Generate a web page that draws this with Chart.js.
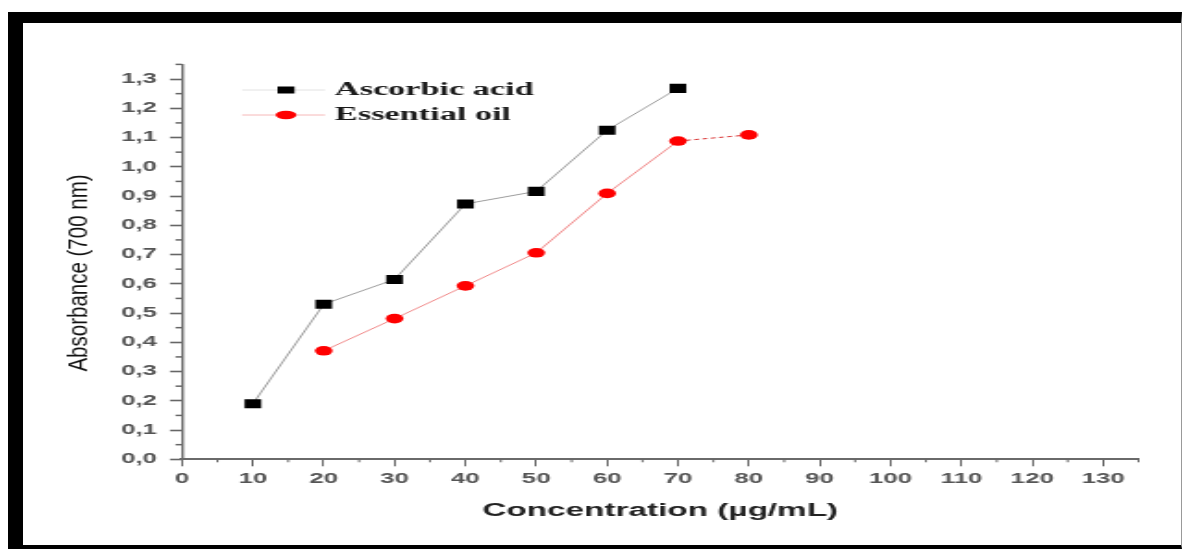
<!DOCTYPE html>
<html>
<head>
<meta charset="utf-8">
<script src="https://cdn.jsdelivr.net/npm/chart.js@4.4.1/dist/chart.umd.min.js"></script>
<style>
    html, body { margin: 0; padding: 0; background: #fff; }
    body { width: 1182px; height: 549px; position: relative; overflow: hidden; }
    /* the source picture is stretched sideways, so the whole canvas is too */
    #wrap { position: absolute; left: 0; top: 0; transform-origin: 0 0; }
    #frame {
        position: absolute; left: 8px; top: 12px; width: 1174px; height: 537px;
        box-sizing: border-box; pointer-events: none;
        border-top: 11px solid #000; border-left: 15px solid #000;
        border-bottom: 4px solid #000; border-right: 1px solid #999;
    }
</style>
</head>
<body>
<div id="wrap"><canvas id="chart" width="639" height="549"></canvas></div>
<div id="frame"></div>
<script>
// ─── DATOS ────────────────────────────────────────────────────
const seriesNames = ['Ascorbic acid', 'Essential oil'];
const concAscorbic = [10, 20, 30, 40, 50, 60, 70];
const absAscorbic = [0.19, 0.53, 0.615, 0.873, 0.916, 1.125, 1.268];
const concOil = [20, 30, 40, 50, 60, 70, 80];
const absOil = [0.371, 0.481, 0.593, 0.706, 0.909, 1.088, 1.109];

const xTitle = 'Concentration (µg/mL)';
const yTitle = 'Absorbance (700 nm)';
const xMax = 135, xStep = 10;
const yMax = 1.35, yStep = 0.1;

// ─── ESTIRADO ──────────────────────────────────────────────────
const CANVAS_W = 639;
const SX = 1182 / CANVAS_W;
document.getElementById('wrap').style.transform = `scaleX(${SX})`;

const toPoints = (xs, ys) => xs.map((x, i) => ({ x: x, y: ys[i] }));

// ─── PLUGINS ───────────────────────────────────────────────────
const minorTicks = {
    id: 'minorTicks',
    afterDraw(chart) {
        const { ctx, scales: { x, y } } = chart;
        ctx.save();
        ctx.strokeStyle = '#666';
        ctx.lineWidth = 1;
        for (let v = xStep / 2; v <= xMax + 0.001; v += xStep) {
            const px = x.getPixelForValue(v);
            ctx.beginPath();
            ctx.moveTo(px, x.top);
            ctx.lineTo(px, x.top + 3);
            ctx.stroke();
        }
        ctx.lineWidth = 1.5;
        for (let v = yStep / 2; v <= yMax + 0.001; v += yStep) {
            const py = y.getPixelForValue(v);
            ctx.beginPath();
            ctx.moveTo(y.right, py);
            ctx.lineTo(y.right - 3.5, py);
            ctx.stroke();
        }
        ctx.restore();
    }
};

const yAxisTitle = {
    id: 'yAxisTitle',
    afterDraw(chart) {
        const ctx = chart.ctx;
        ctx.save();
        ctx.translate(43, 273);
        ctx.scale(1.4 / SX, 1);   // título algo menos estirado que el resto
        ctx.rotate(-Math.PI / 2);
        ctx.font = '20.5px "Liberation Sans", Arial, sans-serif';
        ctx.fillStyle = '#111';
        ctx.textAlign = 'center';
        ctx.textBaseline = 'middle';
        ctx.fillText(yTitle, 0, 0);
        ctx.restore();
    }
};

const legendLineColors = ['#e2e2e2', '#f6b8b8'];
const insideLegend = {
    id: 'insideLegend',
    afterDraw(chart) {
        const ctx = chart.ctx;
        const x1 = 242 / SX, x2 = 325 / SX, mx = 286 / SX, tx = 335 / SX;
        const rows = [90, 115];
        ctx.save();
        chart.data.datasets.forEach((ds, i) => {
            const yy = rows[i];
            ctx.strokeStyle = legendLineColors[i];
            ctx.lineWidth = 1;
            ctx.beginPath();
            ctx.moveTo(x1, yy);
            ctx.lineTo(x2, yy);
            ctx.stroke();
            ctx.fillStyle = ds.pointBackgroundColor;
            ctx.beginPath();
            if (ds.pointStyle === 'rect') ctx.rect(mx - 4.6, yy - 3.5, 9.2, 7);
            else ctx.ellipse(mx, yy, 5.6, 4.2, 0, 0, Math.PI * 2);
            ctx.fill();
            ctx.fillStyle = '#1a1a1a';
            ctx.font = 'bold 18.5px "Liberation Serif", "Times New Roman", serif';
            ctx.textAlign = 'left';
            ctx.textBaseline = 'middle';
            ctx.fillText(ds.label, tx, yy);
        });
        ctx.restore();
    }
};

// ─── GRÁFICO ───────────────────────────────────────────────────
const tickFont = { family: '"Liberation Sans", Arial, sans-serif', size: 14, weight: 'bold' };

new Chart(document.getElementById('chart'), {
    type: 'line',
    data: {
        datasets: [
            {
                label: seriesNames[0],
                data: toPoints(concAscorbic, absAscorbic),
                borderColor: '#9c9c9c',
                borderWidth: 1,
                pointStyle: 'rect',
                pointRadius: 6.4,
                pointBackgroundColor: '#000',
                pointBorderWidth: 0,
                tension: 0
            },
            {
                label: seriesNames[1],
                data: toPoints(concOil, absOil),
                borderColor: '#f08888',
                borderWidth: 1,
                pointStyle: 'circle',
                pointRadius: 4.8,
                pointBackgroundColor: '#ff0000',
                pointBorderWidth: 0,
                tension: 0,
                segment: {
                    borderDash: c => c.p0DataIndex === 5 ? [2.5, 2] : undefined,
                    borderColor: c => c.p0DataIndex === 5 ? '#d83030' : undefined
                }
            }
        ]
    },
    options: {
        responsive: false,
        animation: false,
        devicePixelRatio: 1,
        layout: { padding: { top: 64.4, right: CANVAS_W - 1138.5 / SX, left: 0, bottom: 0 } },
        plugins: { legend: { display: false }, tooltip: { enabled: false } },
        scales: {
            x: {
                type: 'linear',
                min: 0,
                max: xMax,
                afterFit: s => { s.height = 549 - 459.3; },
                border: { display: true, color: '#6a6a6a', width: 2 },
                grid: { drawOnChartArea: false, drawTicks: true, tickLength: 7, tickColor: '#666', tickWidth: 1 },
                ticks: { stepSize: xStep, includeBounds: false, font: tickFont, color: '#555', padding: 4.3, maxRotation: 0 },
                title: {
                    display: true,
                    text: xTitle,
                    color: '#222',
                    font: { family: '"Liberation Sans", Arial, sans-serif', size: 18, weight: 'bold' },
                    padding: { top: 0, bottom: 27 }
                }
            },
            y: {
                min: 0,
                max: yMax,
                afterFit: s => { s.width = 182 / SX; },
                border: { display: true, color: '#6a6a6a', width: 1.4 },
                grid: { drawOnChartArea: false, drawTicks: true, tickLength: 6.5, tickColor: '#666', tickWidth: 1.6 },
                ticks: {
                    stepSize: yStep,
                    includeBounds: false,
                    font: tickFont,
                    color: '#555',
                    padding: 7,
                    callback: v => v.toFixed(1).replace('.', ',')
                }
            }
        }
    },
    plugins: [minorTicks, yAxisTitle, insideLegend]
});
</script>
</body>
</html>
